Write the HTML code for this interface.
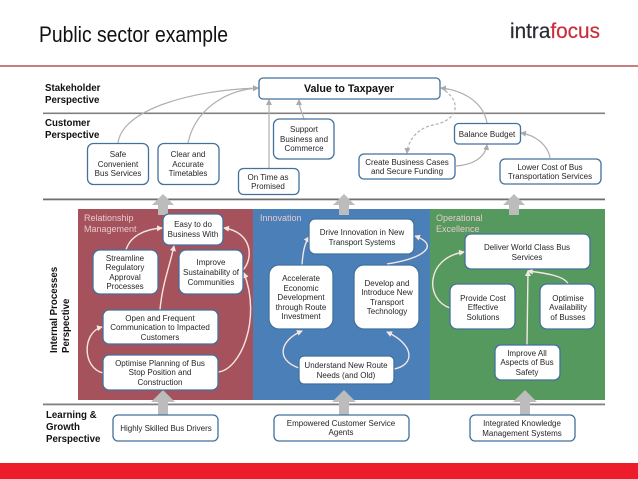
<!DOCTYPE html>
<html><head><meta charset="utf-8"><style>
html,body{margin:0;padding:0;background:#fff;width:638px;height:479px;overflow:hidden}
svg{display:block}
text{font-family:"Liberation Sans",sans-serif}
.n{fill:#fff;stroke:#41719c;stroke-width:1.3}
.t{font-size:8px;fill:#262626;text-anchor:middle}
.l{font-size:9.700px;font-weight:bold;fill:#111}
.p{font-size:9px;fill:#e6c9cc}
.g{fill:none;stroke:#b0b0b0;stroke-width:1.2}
.w{fill:none;stroke:#f3e6e4;stroke-width:1.400}
.h{fill:#bcbcbc}
</style></head><body>
<svg width="638" height="479" viewBox="0 0 638 479" xmlns="http://www.w3.org/2000/svg">
<defs>
<marker id="ag" markerWidth="6" markerHeight="6" refX="5" refY="3" orient="auto" markerUnits="userSpaceOnUse"><path d="M0,0L6,3L0,6Z" fill="#aaa"/></marker>
<marker id="aw" markerWidth="6" markerHeight="6" refX="5" refY="3" orient="auto" markerUnits="userSpaceOnUse"><path d="M0,0L6,3L0,6Z" fill="#f3e6e4"/></marker>
</defs>
<text x="39" y="42" font-size="22" fill="#111" textLength="189" lengthAdjust="spacingAndGlyphs">Public sector example</text>
<text x="510" y="38" font-size="21" fill="#2a2a30" stroke="#2a2a30" stroke-width="0.2" textLength="90" lengthAdjust="spacingAndGlyphs">intra<tspan fill="#c8303c" stroke="#c8303c">focus</tspan></text>
<rect x="0" y="65" width="638" height="2" fill="#c97d7f"/>

<rect x="78" y="209" width="175" height="191" fill="#a5525c"/>
<rect x="253" y="209" width="177" height="191" fill="#4b7fb8"/>
<rect x="430" y="209" width="175" height="191" fill="#56995f"/>

<rect x="43" y="112.500" width="562" height="1.600" fill="#808080"/>
<rect x="43" y="198.500" width="562" height="1.800" fill="#6f6f6f"/>
<rect x="43" y="403.500" width="562" height="1.800" fill="#808080"/>
<rect x="0" y="463" width="638" height="16" fill="#ed1c2a"/>

<g class="h">
<path d="M163,194L174,205H168V215H158V205H152Z"/>
<path d="M344,194L355,205H349V215H339V205H333Z"/>
<path d="M514,194L525,205H519V215H509V205H503Z"/>
<path d="M163,390L175,402H168V415H158V402H151Z"/>
<path d="M344,390L356,402H349V415H339V402H332Z"/>
<path d="M525,390L537,402H530V415H520V402H513Z"/>
</g>

<g class="l">
<text x="45" y="91">Stakeholder</text><text x="45" y="103">Perspective</text>
<text x="45" y="126">Customer</text><text x="45" y="138">Perspective</text>
<text x="46" y="418">Learning &amp;</text><text x="46" y="430">Growth</text><text x="46" y="442">Perspective</text>
<text transform="translate(57,353) rotate(-90)">Internal Processes</text>
<text transform="translate(69,353) rotate(-90)">Perspective</text>
</g>

<g class="p">
<text x="84" y="221">Relationship</text><text x="84" y="232">Management</text>
<text x="260" y="221">Innovation</text>
<text x="436" y="221">Operational</text><text x="436" y="232">Excellence</text>
</g>

<g class="g">
<path d="M118,143C122,110 190,90 258,88" marker-end="url(#ag)"/>
<path d="M188,143C195,110 225,90 258,88" marker-end="url(#ag)"/>
<path d="M269,168V100" marker-end="url(#ag)"/>
<path d="M304,119C302,112 299,108 299,100" marker-end="url(#ag)"/>
<path d="M441,88C462,100 460,120 433,125C418,128 408,140 407,153" stroke-dasharray="3 2" marker-end="url(#ag)"/>
<path d="M487,123C483,100 460,90 441,88" marker-end="url(#ag)"/>
<path d="M456,166C472,165 485,158 487,145" marker-end="url(#ag)"/>
<path d="M550,158C548,145 535,135 521,133" marker-end="url(#ag)"/>
</g>

<g class="w">
<path d="M126,250C130,236 145,229 162,228" marker-end="url(#aw)"/>
<path d="M160,310C162,285 170,265 174,246" marker-end="url(#aw)"/>
<path d="M243,270C254,258 252,232 224,228" marker-end="url(#aw)"/>
<path d="M218,372C240,370 262,320 244,273" marker-end="url(#aw)"/>
<path d="M103,373C82,368 82,332 102,327" marker-end="url(#aw)"/>
<path d="M302,265C303,250 305,243 309,237" marker-end="url(#aw)"/>
<path d="M387,264C425,258 440,245 415,236" marker-end="url(#aw)"/>
<path d="M299,368C275,360 280,340 302,331" marker-end="url(#aw)"/>
<path d="M394,369C415,365 415,345 387,332" marker-end="url(#aw)"/>
<path d="M450,308C425,300 425,258 464,252" marker-end="url(#aw)"/>
<path d="M527,345L528,271" marker-end="url(#aw)"/>
<path d="M568,284C565,276 545,273 528,271" marker-end="url(#aw)"/>
</g>

<g class="n">
<rect x="259" y="78" width="181" height="21" rx="4"/>
<rect x="87.500" y="143.500" width="61" height="41" rx="6"/>
<rect x="158" y="143.500" width="61" height="41" rx="6"/>
<rect x="238.500" y="168.500" width="60.500" height="26" rx="5"/>
<rect x="273.500" y="119" width="60.500" height="40" rx="6"/>
<rect x="359" y="154" width="96" height="25" rx="5"/>
<rect x="454.500" y="123.500" width="66" height="20.500" rx="4"/>
<rect x="500" y="159" width="101" height="25" rx="5"/>
<rect x="163" y="214" width="60" height="31" rx="6"/>
<rect x="93" y="250" width="65" height="44" rx="7"/>
<rect x="179" y="250" width="64" height="44" rx="7"/>
<rect x="103" y="310" width="115" height="34" rx="6"/>
<rect x="103" y="355" width="115" height="35" rx="6"/>
<rect x="309" y="219" width="105" height="35" rx="6"/>
<rect x="269" y="265" width="64" height="64" rx="10"/>
<rect x="354" y="265" width="65" height="64" rx="10"/>
<rect x="299" y="356" width="95" height="28" rx="5"/>
<rect x="465" y="234" width="125" height="35" rx="6"/>
<rect x="450" y="284" width="65" height="45" rx="7"/>
<rect x="540" y="284" width="55" height="45" rx="7"/>
<rect x="495" y="345" width="65" height="35" rx="6"/>
<rect x="113" y="415" width="105" height="26" rx="5"/>
<rect x="274" y="415" width="135" height="26" rx="5"/>
<rect x="470" y="415" width="105" height="26" rx="5"/>
</g>

<text x="349" y="92" text-anchor="middle" font-size="10.700" font-weight="bold" fill="#111">Value to Taxpayer</text>

<g class="t">
<text x="118" y="157">Safe</text><text x="118" y="167">Convenient</text><text x="118" y="176">Bus Services</text>
<text x="188" y="157">Clear and</text><text x="188" y="167">Accurate</text><text x="188" y="176">Timetables</text>
<text x="268" y="180">On Time as</text><text x="268" y="189">Promised</text>
<text x="304" y="132">Support</text><text x="304" y="142">Business and</text><text x="304" y="151">Commerce</text>
<text x="407" y="165">Create Business Cases</text><text x="407" y="174">and Secure Funding</text>
<text x="487" y="137">Balance Budget</text>
<text x="550" y="170">Lower Cost of Bus</text><text x="550" y="179">Transportation Services</text>
<text x="193" y="227">Easy to do</text><text x="193" y="237">Business With</text>
<text x="125" y="261">Streamline</text><text x="125" y="270">Regulatory</text><text x="125" y="280">Approval</text><text x="125" y="289">Processes</text>
<text x="211" y="265">Improve</text><text x="211" y="275">Sustainability of</text><text x="211" y="285">Communities</text>
<text x="160" y="321">Open and Frequent</text><text x="160" y="330">Communication to Impacted</text><text x="160" y="340">Customers</text>
<text x="160" y="366">Optimise Planning of Bus</text><text x="160" y="375">Stop Position and</text><text x="160" y="385">Construction</text>
<text x="362" y="235">Drive Innovation in New</text><text x="362" y="245">Transport Systems</text>
<text x="301" y="281">Accelerate</text><text x="301" y="291">Economic</text><text x="301" y="300">Development</text><text x="301" y="310">through Route</text><text x="301" y="319">Investment</text>
<text x="387" y="286">Develop and</text><text x="387" y="295">Introduce New</text><text x="387" y="305">Transport</text><text x="387" y="314">Technology</text>
<text x="346" y="368">Understand New Route</text><text x="346" y="378">Needs (and Old)</text>
<text x="527" y="250">Deliver World Class Bus</text><text x="527" y="260">Services</text>
<text x="483" y="301">Provide Cost</text><text x="483" y="310">Effective</text><text x="483" y="320">Solutions</text>
<text x="568" y="301">Optimise</text><text x="568" y="310">Availability</text><text x="568" y="320">of Busses</text>
<text x="527" y="356">Improve All</text><text x="527" y="365">Aspects of Bus</text><text x="527" y="375">Safety</text>
<text x="166" y="431">Highly Skilled Bus Drivers</text>
<text x="341" y="426">Empowered Customer Service</text><text x="341" y="435">Agents</text>
<text x="522" y="426">Integrated Knowledge</text><text x="522" y="436">Management Systems</text>
</g>
</svg>
</body></html>
